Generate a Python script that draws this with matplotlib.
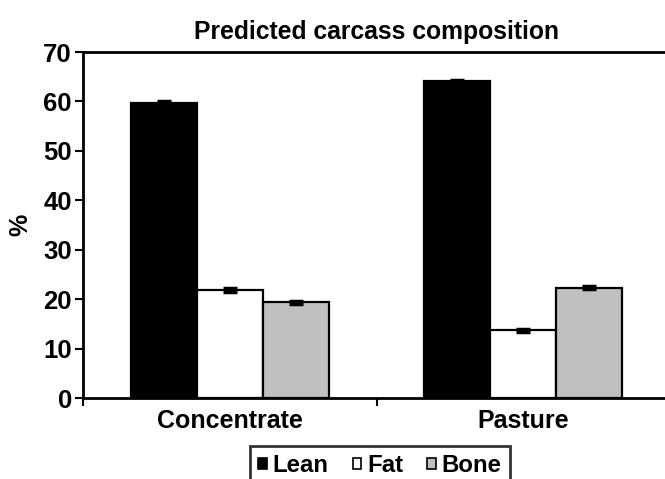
import matplotlib
matplotlib.use("Agg")
import matplotlib.pyplot as plt
from matplotlib.patches import Patch
import numpy as np

categories = ["Concentrate", "Pasture"]
series = ["Lean", "Fat", "Bone"]
lean = [59.7, 64.1]
fat = [21.9, 13.7]
bone = [19.4, 22.3]
lean_err = [0.3, 0.3]
fat_err = [0.4, 0.3]
bone_err = [0.3, 0.3]
colors = ["#000000", "#ffffff", "#c0c0c0"]

plt.rcParams['font.family'] = ['Liberation Sans', 'DejaVu Sans']
plt.rcParams['font.weight'] = 'bold'

fig = plt.figure(figsize=(6.65, 4.79), dpi=100)
ax = fig.add_axes([83/665, 1-398/479, 587/665, 346/479])

x = np.arange(len(categories))
w = 0.225
vals = [lean, fat, bone]
errs = [lean_err, fat_err, bone_err]
for i, (v, e, c) in enumerate(zip(vals, errs, colors)):
    ax.bar(x + (i-1)*w, v, width=w, color=c, edgecolor='black', linewidth=1.6, zorder=2)
    ax.errorbar(x + (i-1)*w, v, yerr=e, fmt='none', ecolor='black', elinewidth=1.5,
                capsize=5, capthick=2.5, zorder=3)

ax.set_xlim(-0.5, 1.5)
ax.set_ylim(0, 70)
ax.set_yticks(range(0, 71, 10))
ax.set_xticks([-0.5, 0.5, 1.5])
ax.set_xticklabels([])
ax.set_xticks(x, minor=True)
ax.set_xticklabels(categories, minor=True, fontsize=18, fontweight='bold')
ax.tick_params(axis='x', which='minor', length=0, pad=8)
ax.tick_params(axis='x', which='major', length=6, width=1.5, direction='out')
ax.tick_params(axis='y', length=6, width=1.5, labelsize=18.5, pad=2)
for lbl in ax.get_yticklabels():
    lbl.set_fontweight('bold')

for s in ['left', 'bottom', 'top']:
    ax.spines[s].set_linewidth(2)
ax.spines['right'].set_visible(False)

ax.set_ylabel('%', fontsize=18, fontweight='bold', labelpad=8)
ax.set_title('Predicted carcass composition', fontsize=17.8, fontweight='bold', pad=9)

handles = [Patch(facecolor=c, edgecolor='black', linewidth=1.2) for c in colors]
leg = fig.legend(handles, series, loc='upper left', bbox_to_anchor=(250/665, 1-446/479),
                 ncol=3, fontsize=17.3, frameon=True, fancybox=False,
                 handlelength=0.35, handleheight=0.35, handletextpad=0.25,
                 columnspacing=1.0, borderpad=0.35, borderaxespad=0)
leg.get_frame().set_edgecolor('black')
leg.get_frame().set_linewidth(2)
for t in leg.get_texts():
    t.set_fontweight('bold')

fig.savefig('out.png', dpi=100)
